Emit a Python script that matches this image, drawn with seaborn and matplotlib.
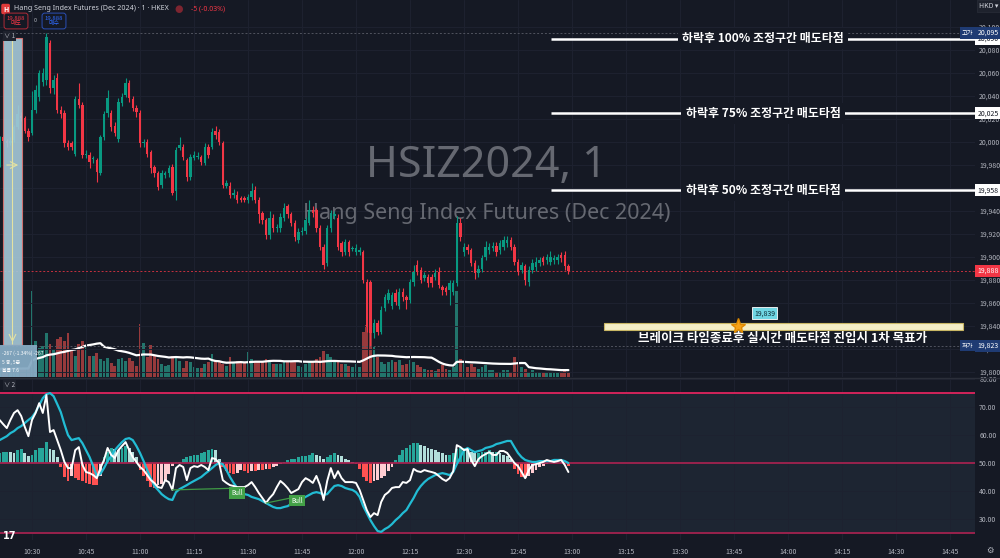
import numpy as np
import pandas as pd
import matplotlib
matplotlib.use('Agg')
import matplotlib.pyplot as plt
import matplotlib.transforms as mtransforms
from matplotlib.patches import Rectangle
import seaborn as sns

# 1-minute bars (10:21 .. 12:59)
opens = [19982, 20004, 20001, 19999, 20002, 20013, 20023, 20021, 20010, 20008,
         20028, 20039, 20052, 20054, 20086, 20047, 20056, 20028, 20025, 19999,
         19999, 19990, 20037, 20032, 19989, 19989, 19985, 19984, 19973, 20004,
         20025, 20025, 20014, 20003, 20034, 20041, 20051, 20037, 20030, 20025,
         19999, 20000, 19991, 19978, 19973, 19963, 19971, 19973, 19978, 19957,
         19995, 19996, 19984, 19970, 19986, 19987, 19987, 19982, 19996, 19996,
         20010, 20009, 19999, 19962, 19962, 19954, 19954, 19951, 19951, 19950,
         19952, 19958, 19950, 19938, 19932, 19919, 19934, 19925, 19925, 19934,
         19944, 19937, 19930, 19915, 19922, 19923, 19930, 19941, 19941, 19925,
         19909, 19895, 19925, 19936, 19934, 19912, 19904, 19913, 19907, 19904,
         19904, 19904, 19878, 19878, 19834, 19843, 19835, 19856, 19863, 19857,
         19869, 19857, 19870, 19865, 19863, 19878, 19893, 19889, 19882, 19883,
         19883, 19883, 19887, 19874, 19873, 19871, 19870, 19877, 19930, 19904,
         19909, 19906, 19895, 19886, 19890, 19900, 19906, 19908, 19910, 19906,
         19909, 19912, 19915, 19909, 19896, 19889, 19892, 19878, 19889, 19891,
         19895, 19899, 19897, 19896, 19897, 19897, 19902, 19902, 19892]
closes = [20002, 20001, 19999, 20001, 20013, 20024, 20021, 20010, 20004, 20028,
          20045, 20060, 20060, 20091, 20047, 20054, 20028, 20024, 19999, 19996,
          19996, 20037, 20032, 19989, 19990, 19983, 19986, 19974, 20004, 20024,
          20038, 20013, 20008, 20035, 20039, 20051, 20038, 20030, 20026, 19999,
          20000, 19990, 19977, 19973, 19961, 19973, 19973, 19977, 19956, 19993,
          19997, 19987, 19970, 19987, 19989, 19988, 19983, 19996, 19989, 20009,
          20006, 20000, 19963, 19964, 19954, 19956, 19950, 19950, 19950, 19952,
          19957, 19950, 19937, 19932, 19919, 19934, 19925, 19926, 19935, 19943,
          19937, 19930, 19917, 19922, 19923, 19932, 19941, 19938, 19925, 19909,
          19893, 19925, 19938, 19937, 19909, 19904, 19913, 19904, 19908, 19908,
          19906, 19880, 19839, 19834, 19843, 19835, 19854, 19865, 19869, 19867,
          19861, 19870, 19865, 19863, 19878, 19887, 19887, 19880, 19884, 19877,
          19877, 19886, 19876, 19871, 19870, 19877, 19877, 19930, 19917, 19909,
          19906, 19895, 19886, 19890, 19899, 19909, 19909, 19910, 19904, 19912,
          19915, 19915, 19909, 19896, 19887, 19893, 19880, 19889, 19895, 19896,
          19897, 19896, 19900, 19900, 19899, 19900, 19899, 19892, 19888]
highs = [20005, 20006, 20003, 20004, 20015, 20032, 20026, 20023, 20012, 20044,
         20050, 20063, 20064, 20095, 20089, 20058, 20060, 20031, 20028, 20002,
         20001, 20040, 20051, 20035, 19993, 19991, 19988, 19986, 20006, 20027,
         20045, 20028, 20017, 20038, 20043, 20056, 20054, 20040, 20032, 20028,
         20003, 20003, 19993, 19980, 19975, 19976, 19975, 19980, 19981, 19996,
         20004, 19998, 19986, 19990, 19992, 19991, 19989, 19999, 19998, 20012,
         20014, 20011, 20001, 19967, 19965, 19959, 19957, 19953, 19953, 19955,
         19964, 19962, 19952, 19940, 19934, 19940, 19937, 19929, 19938, 19947,
         19946, 19939, 19932, 19925, 19926, 19935, 19950, 19944, 19943, 19928,
         19911, 19928, 19941, 19940, 19937, 19914, 19916, 19915, 19910, 19911,
         19909, 19906, 19881, 19880, 19846, 19845, 19857, 19868, 19872, 19870,
         19872, 19873, 19873, 19867, 19881, 19893, 19897, 19891, 19887, 19885,
         19885, 19890, 19891, 19876, 19875, 19880, 19880, 19936, 19934, 19912,
         19911, 19908, 19897, 19893, 19902, 19914, 19912, 19913, 19913, 19915,
         19918, 19918, 19917, 19911, 19898, 19896, 19894, 19892, 19898, 19900,
         19900, 19901, 19903, 19905, 19902, 19903, 19904, 19905, 19894]
lows = [19978, 19999, 19996, 19997, 20000, 20011, 20018, 20008, 20001, 20006,
        20025, 20036, 20049, 20050, 20043, 20042, 20025, 20021, 19996, 19993,
        19993, 19988, 20030, 19986, 19986, 19977, 19982, 19965, 19971, 20002,
        20022, 20010, 20005, 20000, 20031, 20039, 20035, 20027, 20022, 19996,
        19996, 19987, 19973, 19970, 19958, 19960, 19969, 19970, 19954, 19950,
        19993, 19984, 19966, 19967, 19984, 19985, 19980, 19980, 19986, 19994,
        20003, 19997, 19960, 19960, 19951, 19951, 19947, 19948, 19948, 19947,
        19950, 19947, 19930, 19929, 19916, 19916, 19922, 19922, 19922, 19931,
        19934, 19927, 19914, 19912, 19919, 19920, 19928, 19935, 19922, 19906,
        19890, 19892, 19922, 19933, 19906, 19901, 19902, 19901, 19905, 19902,
        19902, 19877, 19835, 19823, 19830, 19832, 19833, 19853, 19860, 19855,
        19858, 19855, 19862, 19855, 19860, 19875, 19884, 19877, 19879, 19874,
        19874, 19880, 19873, 19867, 19867, 19858, 19867, 19875, 19914, 19901,
        19903, 19892, 19881, 19883, 19887, 19897, 19903, 19905, 19901, 19903,
        19906, 19909, 19906, 19893, 19884, 19886, 19876, 19875, 19886, 19888,
        19892, 19893, 19894, 19893, 19894, 19894, 19896, 19889, 19885]
volumes = [80, 90, 70, 80, 90, 100, 80, 90, 90, 860,
           360, 290, 310, 440, 330, 280, 380, 400, 360, 440,
           260, 210, 330, 360, 310, 210, 210, 240, 180, 160,
           190, 140, 110, 180, 190, 160, 190, 160, 110, 530,
           340, 200, 320, 210, 180, 130, 110, 120, 210, 210,
           160, 90, 160, 150, 100, 90, 90, 130, 150, 230,
           160, 150, 130, 110, 200, 150, 160, 150, 150, 250,
           180, 160, 160, 150, 180, 160, 130, 130, 130, 150,
           150, 160, 160, 110, 100, 130, 150, 150, 180, 200,
           260, 230, 200, 150, 150, 130, 130, 110, 100, 130,
           100, 450, 520, 470, 300, 200, 150, 130, 150, 170,
           150, 170, 120, 130, 170, 150, 120, 100, 80, 70,
           70, 60, 80, 120, 80, 70, 100, 860, 180, 150,
           100, 130, 100, 80, 100, 120, 70, 70, 50, 50,
           70, 70, 50, 200, 150, 100, 80, 50, 70, 50,
           50, 50, 40, 50, 40, 40, 50, 70, 50]

# lower pane: white oscillator, cyan signal, histogram around 50
osc_white = [65.4, 63.9, 62.5, 65.4, 67.9, 68.9, 66.8, 62.9, 59.6, 65.4,
             67.9, 71.4, 67.9, 74.3, 61.1, 61.8, 58.2, 54.6, 50.4, 48.2,
             48.2, 54.6, 55.7, 49.3, 46.8, 46.4, 45.7, 44.6, 48.2, 51.1,
             55.4, 52.9, 51.8, 54.6, 56.1, 57.5, 54.6, 52.1, 50.4, 48.6,
             47.5, 45.7, 43.9, 42.9, 41.4, 41.1, 43.9, 43.2, 40.4, 48.2,
             49.3, 48.6, 43.9, 48.2, 48.9, 48.6, 49.3, 48.6, 47.5, 51.8,
             51.4, 50.0, 43.9, 42.9, 42.1, 41.8, 41.4, 41.4, 41.4, 42.1,
             43.2, 41.4, 39.3, 37.5, 35.7, 37.5, 38.9, 41.4, 43.6, 42.5,
             41.1, 39.3, 40.0, 40.7, 43.2, 44.6, 43.9, 42.9, 45.4, 42.1,
             36.8, 43.6, 48.2, 44.6, 47.1, 44.6, 43.2, 43.2, 43.2, 42.9,
             40.4, 36.8, 33.2, 30.7, 32.1, 31.4, 36.1, 38.6, 39.6, 41.1,
             41.4, 41.4, 43.2, 42.9, 43.9, 47.9, 47.1, 46.8, 47.5, 47.1,
             46.8, 46.4, 45.4, 44.3, 43.6, 44.6, 47.1, 56.4, 55.7, 54.6,
             55.0, 51.1, 48.9, 51.4, 52.5, 53.2, 53.9, 52.9, 52.9, 54.3,
             54.3, 53.6, 51.8, 50.0, 48.9, 46.8, 44.6, 47.5, 49.3, 49.6,
             50.0, 50.4, 51.1, 50.7, 50.4, 50.7, 51.1, 49.3, 46.8]
osc_cyan = [58.2, 58.9, 59.6, 60.7, 61.4, 62.5, 63.2, 64.3, 65.4, 66.4,
            68.2, 70.7, 73.2, 74.6, 75.0, 73.9, 71.1, 68.2, 63.9, 60.0,
            58.2, 58.6, 58.9, 57.1, 54.6, 52.1, 48.9, 45.4, 46.1, 48.2,
            50.7, 52.5, 54.6, 56.1, 57.5, 58.6, 58.9, 58.2, 56.1, 53.6,
            50.7, 47.5, 44.6, 41.8, 40.4, 38.9, 37.9, 37.1, 36.8, 39.6,
            40.7, 41.4, 42.1, 42.9, 43.6, 44.3, 45.0, 46.1, 47.1, 48.2,
            49.3, 50.0, 49.6, 47.5, 45.0, 42.9, 41.1, 39.6, 38.9, 38.6,
            37.9, 37.5, 37.1, 36.4, 35.7, 35.0, 34.3, 33.9, 33.9, 34.3,
            34.6, 35.4, 36.1, 36.8, 37.1, 37.9, 38.6, 39.3, 39.6, 39.3,
            38.6, 38.9, 40.4, 41.8, 42.1, 41.8, 41.1, 40.7, 40.4, 39.6,
            37.9, 34.6, 32.1, 29.6, 27.5, 25.7, 25.4, 26.4, 27.1, 28.2,
            29.6, 30.7, 32.1, 33.2, 35.4, 37.5, 40.0, 41.8, 43.2, 44.3,
            45.0, 45.7, 46.1, 46.4, 46.1, 45.7, 46.8, 49.6, 52.1, 54.6,
            55.4, 54.6, 53.9, 54.3, 54.6, 55.4, 55.7, 56.1, 56.8, 57.1,
            57.5, 57.9, 57.9, 55.7, 53.6, 52.1, 51.1, 50.7, 50.4, 50.4,
            50.7, 50.7, 50.7, 50.7, 51.1, 51.1, 51.1, 50.7, 50.0]
osc_hist = [3.5, 4, 4, 3.9, 3.5, 4.5, 5, 3.5, 2.5, 3,
            4.5, 5.4, 5.5, 7.5, 5, 4.5, 2, -1.5, -5, -6.5,
            -4.5, -5.5, -6, -6.5, -7, -7.5, -7.8, -8, -4.5, 2,
            4, 5.5, 5, 4.5, 5.5, 6, 5.5, 4, 2, -2.5,
            -4.5, -6.5, -8.5, -9, -8, -7.5, -6.5, -4, -1, 0.5,
            0.5, 1.5, 2, 2.5, 3, 3, 3.5, 4, 4.5, 5,
            4.5, 1.5, -1.5, -3, -3.5, -4, -3.5, -2.5, -3, -3.5,
            -3, -3, -2.5, -2.5, -2, -2, -1.5, -1, -0.5, 0.5,
            1, 1.5, 1.5, 2, 2.5, 2.5, 3, 3.5, 3, 2.5,
            1.5, 2, 3, 3.5, 3, 2.5, 1.5, 1, 0.5, -0.5,
            -2, -5, -6.5, -7, -6.5, -6, -5.5, -4.5, -3, -1.5,
            1, 3, 4.5, 5.5, 6.5, 7, 7, 6.5, 6, 5.5,
            5, 4.5, 4, 3.5, 3, 3, 3.5, 5, 5.5, 5.5,
            5, 4, 3.5, 3.5, 4, 4, 4.5, 4, 4, 3.5,
            3, 2.5, 1.5, -2, -4, -5, -5.5, -4.5, -3.5, -2.5,
            -1.5, -1, -0.5, 0.3, 0.5, 0.5, 0.3, -0.5, -1]

price_ticks = list(range(19800, 20101, 20))
osc_ticks = [30, 40, 50, 60, 70, 80]
time_labels = ['10:30', '10:45', '11:00', '11:15', '11:30', '11:45', '12:00', '12:15', '12:30',
               '12:45', '13:00', '13:15', '13:30', '13:45', '14:00', '14:15', '14:30', '14:45']
level_prices = [20090, 20025, 19958]
level_texts = ['하락후 100% 조정구간 매도타점', '하락후 75% 조정구간 매도타점', '하락후 50% 조정구간 매도타점']
target_price = 19839
target_text = '브레이크 타임종료후 실시간 매도타점 진입시 1차 목표가'
day_high = 20095
day_low = 19823
last_price = 19888

bg = '#151924'
grid_c = '#1e2230'
txt_c = '#b2b5be'
up_c = '#089981'
dn_c = '#f23645'

sns.set_theme(style='dark', rc={'axes.facecolor': bg, 'figure.facecolor': bg,
                                'savefig.facecolor': bg})
plt.rcParams['font.family'] = ['Noto Sans CJK KR', 'DejaVu Sans']
plt.rcParams['axes.unicode_minus'] = False

W, H = 1000, 558
fig = plt.figure(figsize=(10, 5.58), dpi=100)


def fx(px):
    return px / W


def fy(py):
    return 1 - py / H


def bar_x(px):
    # screen column -> bar index, one bar every 3.6 px
    return (px + 0.4) / 3.6


ax = fig.add_axes([0, fy(377), fx(975), 377 / H])
axv = ax.twinx()
ax2 = fig.add_axes([0, fy(540), fx(975), 162 / H])
ax.set_zorder(3)
axv.set_zorder(2)
ax.patch.set_visible(False)
axv.patch.set_facecolor(bg)

n = len(closes)
x = np.arange(n)
o = np.array(opens)
c = np.array(closes)
cols = np.where(c >= o, up_c, dn_c)

tick_idx = [9 + 15 * k for k in range(len(time_labels))]
for a in (ax, axv, ax2):
    a.set_xlim(bar_x(0), bar_x(975))
    for s in a.spines.values():
        s.set_visible(False)

# ---- price pane ----
ax.set_ylim(19795.7, 20123.5)
ax.set_xticks(tick_idx)
ax.set_yticks(price_ticks)
ax.grid(True, color=grid_c, lw=0.7)
ax.yaxis.tick_right()
ax.set_yticklabels([f'{p:,}' for p in price_ticks])
ax.tick_params(axis='y', colors=txt_c, labelsize=5, length=0, pad=3)
ax.tick_params(axis='x', length=0, labelbottom=False)

axv.set_ylim(0, 3770)
axv.set_yticks([])
axv.grid(False)
vcols = np.where(c >= o, '#22756c', '#973a3c')
axv.bar(x, volumes, width=0.78, color=vcols, linewidth=0)
vol_ma = pd.Series(volumes).rolling(20, min_periods=1).mean()
sns.lineplot(x=x, y=vol_ma.values, ax=axv, color='white', lw=1.6)
axv.set_xlabel('')
axv.set_ylabel('')

ax.vlines(x, lows, highs, colors=cols, lw=0.8, zorder=3)
body = np.maximum(np.abs(c - o), 0.9)
ax.bar(x, body, bottom=np.minimum(o, c), width=0.68, color=cols, linewidth=0, zorder=4)

ax.axhline(last_price, color=dn_c, ls=(0, (2, 2)), lw=0.7, alpha=0.8, zorder=2)
ax.axhline(day_high, color='#50535e', ls=(0, (2, 2)), lw=0.7, zorder=2)
ax.axhline(day_low, color='#50535e', ls=(0, (2, 2)), lw=0.7, zorder=2)

# watermark
ax.text(fx(486), fy(166), 'HSIZ2024, 1', transform=fig.transFigure, ha='center', va='center',
        fontsize=31, color='#74777f', alpha=0.85, family=['Noto Sans', 'DejaVu Sans'], zorder=1)
ax.text(fx(487), fy(214), 'Hang Seng Index Futures (Dec 2024)', transform=fig.transFigure,
        ha='center', va='center', fontsize=15.5, color='#74777f', alpha=0.85,
        family=['Noto Sans', 'DejaVu Sans'], zorder=1)

# retracement levels
for p, t in zip(level_prices, level_texts):
    ax.hlines(p, bar_x(551), bar_x(975), color='white', lw=1.8, zorder=6)
    ax.text(bar_x(763), p, t, ha='center', va='center', color='white', fontsize=8.6,
            fontweight='bold', zorder=7,
            bbox=dict(boxstyle='square,pad=0.35', facecolor=bg, edgecolor='none'))

# target zone
ax.add_patch(Rectangle((bar_x(604), target_price - 2.5), bar_x(963) - bar_x(604), 6,
                       facecolor='#f4eec6', edgecolor='#c9b765', lw=0.8, zorder=6))
ax.plot(bar_x(738), target_price + 1, marker='*', ms=11, color='#f5a31a',
        markeredgecolor='#e08a00', zorder=8)
ax.text(bar_x(754), target_price + 12, f'{target_price:,}', ha='left', va='center', fontsize=5,
        color='#0d2a33', zorder=8,
        bbox=dict(boxstyle='square,pad=0.3', facecolor='#6fd6e3', edgecolor='white', lw=0.6))
ax.text(bar_x(783), target_price - 10, target_text, ha='center', va='center', color='white',
        fontsize=9, fontweight='bold', zorder=7)

# measuring tool on the left edge
ax.add_patch(Rectangle((bar_x(3), day_low + 0.5), bar_x(22) - bar_x(3), 267,
                       facecolor='#a3c6d6', edgecolor='#d9706f', lw=0.8, alpha=0.92, zorder=9))
ax.vlines(bar_x(12.5), day_low + 1, 20090, color='#e4e2a2', lw=0.8, zorder=10)
ax.annotate('', xy=(bar_x(21), 19980), xytext=(bar_x(4), 19980),
            arrowprops=dict(arrowstyle='->', color='#e4e2a2', lw=0.8), zorder=10)
ax.annotate('', xy=(bar_x(12.5), day_low + 0.5), xytext=(bar_x(12.5), day_low + 8),
            arrowprops=dict(arrowstyle='->', color='#e4e2a2', lw=0.8), zorder=10)
fig.add_artist(Rectangle((0, fy(377)), fx(37), 32 / H, transform=fig.transFigure,
                         facecolor='#86aac3', edgecolor='none', alpha=0.95, zorder=10))
for yy, t in zip([353, 362, 371], ['-267 (-1.34%) -267', '5 봉, 5분', '볼륨 7.6']):
    fig.text(fx(2), fy(yy), t, fontsize=3.5, color='white', va='center', zorder=11)

# right-hand price tags
tr = mtransforms.blended_transform_factory(ax.transAxes, ax.transData)
xr = 1 + 2.5 / 975
for p in level_prices:
    ax.text(xr, p, f'{p:,}', transform=tr, fontsize=5, color='#131722', va='center', ha='left',
            clip_on=False, zorder=12,
            bbox=dict(boxstyle='square,pad=0.3', facecolor='white', edgecolor='none'))
ax.text(xr, last_price, f'{last_price:,}', transform=tr, fontsize=5, color='white', va='center',
        ha='left', clip_on=False, zorder=12,
        bbox=dict(boxstyle='square,pad=0.3', facecolor=dn_c, edgecolor='none'))
for p, lab in [(day_high, '고가'), (day_low, '저가')]:
    ax.text(xr, p, f'{p:,}', transform=tr, fontsize=5, color='white', va='center', ha='left',
            clip_on=False, zorder=12,
            bbox=dict(boxstyle='square,pad=0.3', facecolor='#1f3b73', edgecolor='none'))
    ax.text(1 - 1.5 / 975, p, lab, transform=tr, fontsize=4.5, color='white', va='center',
            ha='right', clip_on=False, zorder=12,
            bbox=dict(boxstyle='square,pad=0.3', facecolor='#1f3b73', edgecolor='none'))

# ---- oscillator pane ----
ax2.set_ylim(22.5, 80.4)
ax2.axhspan(25, 75, color='#1d2532', zorder=0, lw=0)
ax2.set_xticks(tick_idx)
ax2.set_xticklabels(time_labels)
ax2.set_yticks(osc_ticks)
ax2.set_yticklabels([f'{v:.2f}' for v in osc_ticks])
ax2.grid(True, color=grid_c, lw=0.7)
ax2.yaxis.tick_right()
ax2.tick_params(axis='y', colors=txt_c, labelsize=5, length=0, pad=3)
ax2.tick_params(axis='x', colors=txt_c, labelsize=5, length=0, pad=6)

hist = np.array(osc_hist)
prev = np.concatenate([[hist[0]], hist[:-1]])
hcols = np.where(hist >= 0,
                 np.where(hist >= prev, '#26a69a', '#b2dfdb'),
                 np.where(hist <= prev, '#ff5252', '#ffcdd2'))
ax2.bar(x, hist, bottom=50, width=0.8, color=hcols, linewidth=0, zorder=2)
ax2.axhline(75, color='#e0245e', lw=1.3, zorder=3)
ax2.axhline(50, color='#a3224f', lw=1.3, zorder=3)
ax2.axhline(25, color='#a3224f', lw=1.3, zorder=3)
sns.lineplot(x=x, y=osc_cyan, ax=ax2, color='#22bcd4', lw=1.6, zorder=4)
sns.lineplot(x=x, y=osc_white, ax=ax2, color='white', lw=1.4, zorder=5)
ax2.set_xlabel('')
ax2.set_ylabel('')

# divergence tags
for (x0, y0, x1, y1, lx, ly) in [(bar_x(172), 40.4, bar_x(244), 41.1, bar_x(237), 39.4),
                                 (bar_x(266), 35.7, bar_x(296), 37.9, bar_x(297), 36.6)]:
    ax2.plot([x0, x1], [y0, y1], color='#3f9a45', lw=0.9, zorder=6)
    ax2.text(lx, ly, 'Bull', fontsize=4.5, color='white', ha='center', va='center', zorder=7,
             bbox=dict(boxstyle='square,pad=0.3', facecolor='#43a047', edgecolor='none'))

# pane separator
fig.add_artist(plt.Line2D([0, 1], [fy(377.5), fy(377.5)], color='#2a2e39', lw=1,
                          transform=fig.transFigure))

# ---- header / chrome ----
fig.text(fx(3), fy(9), 'H', fontsize=5, color='white', va='center', fontweight='bold',
         bbox=dict(boxstyle='round,pad=0.25', facecolor='#e03a3a', edgecolor='none'))
fig.text(fx(14), fy(9), 'Hang Seng Index Futures (Dec 2024) · 1 · HKEX', fontsize=5.1,
         color='#d1d4dc', va='center', family=['Noto Sans', 'DejaVu Sans'])
fig.text(fx(179), fy(9), '●', fontsize=7, color='#7d2530', va='center', ha='center',
         family=['DejaVu Sans'])
fig.text(fx(191), fy(9), '-5 (-0.03%)', fontsize=5, color=dn_c, va='center',
         family=['Noto Sans', 'DejaVu Sans'])
fig.text(fx(16), fy(21), '19,888\n매도', fontsize=4.3, color=dn_c, va='center', ha='center',
         linespacing=1.1,
         bbox=dict(boxstyle='round,pad=0.45', facecolor=bg, edgecolor='#b02a37', lw=0.7))
fig.text(fx(35), fy(21), '0', fontsize=4, color=txt_c, va='center', ha='center')
fig.text(fx(54), fy(21), '19,888\n매수', fontsize=4.3, color='#2f6bff', va='center', ha='center',
         linespacing=1.1,
         bbox=dict(boxstyle='round,pad=0.45', facecolor=bg, edgecolor='#2a4fb5', lw=0.7))
fig.text(fx(4), fy(36), '∨ 1', fontsize=4.5, color=txt_c, va='center',
         bbox=dict(boxstyle='square,pad=0.2', facecolor='#1e222d', edgecolor='none'))
fig.text(fx(4), fy(385), '∨ 2', fontsize=4.5, color=txt_c, va='center',
         bbox=dict(boxstyle='square,pad=0.2', facecolor='#1e222d', edgecolor='none'))
fig.text(fx(979), fy(6), 'HKD ▾', fontsize=5, color='#d1d4dc', va='center',
         bbox=dict(boxstyle='square,pad=0.3', facecolor='#1e222d', edgecolor='#2a2e39', lw=0.5))
fig.text(fx(3), fy(536), '17', fontsize=7, color='white', va='center', fontweight='bold',
         family=['DejaVu Sans'])
fig.text(fx(990), fy(550), '⚙', fontsize=6, color=txt_c, va='center', ha='center',
         family=['DejaVu Sans'])

fig.savefig('out.png', dpi=100, facecolor=bg)
